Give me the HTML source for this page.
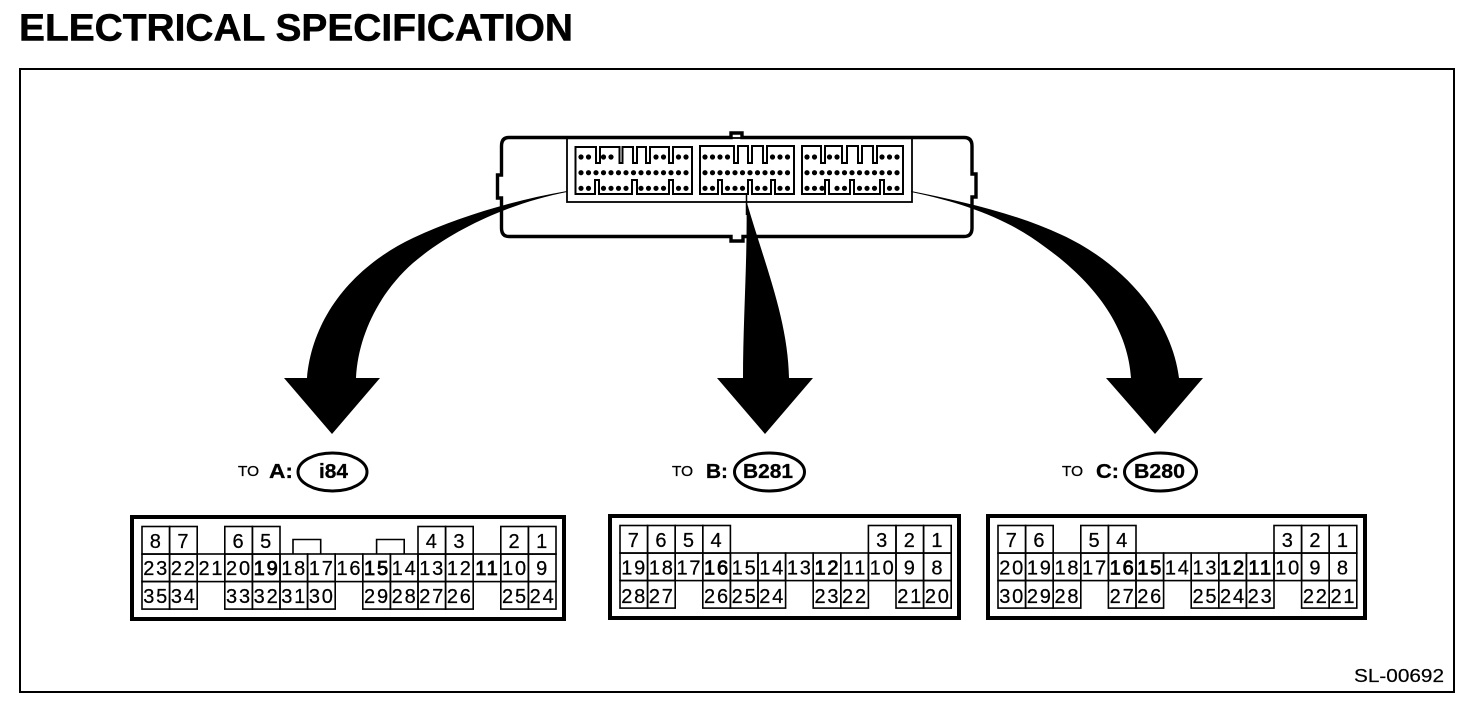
<!DOCTYPE html>
<html><head><meta charset="utf-8"><style>
html,body{margin:0;padding:0;background:#fff}
svg{display:block;font-family:"Liberation Sans",sans-serif}
rect.c{width:27.6px;height:27.6px;fill:none;stroke:#000;stroke-width:1.6}
.n text{font-size:20px;text-anchor:middle;letter-spacing:1.8px;stroke:#000;stroke-width:.25}
.n text.b{stroke-width:.8}
.o{fill:none;stroke:#000;stroke-width:4}
.e{fill:#fff;stroke:#000;stroke-width:3}
.p{fill:none;stroke:#000;stroke-width:5.2;stroke-linecap:round}
.s{fill:none;stroke:#000;stroke-width:2}
.t{font-size:15px;stroke:#000;stroke-width:.3}
.l{font-size:20px;font-weight:bold;stroke:#000;stroke-width:.3}
</style></head><body>
<svg width="1472" height="702" viewBox="0 0 1472 702" xmlns="http://www.w3.org/2000/svg">
<text x="19" y="40.5" font-size="38" font-weight="bold" stroke="#000" stroke-width=".5" textLength="554" lengthAdjust="spacingAndGlyphs">ELECTRICAL SPECIFICATION</text>
<rect x="20" y="69" width="1434" height="623" fill="none" stroke="#000" stroke-width="2"/>
<text x="1354" y="682" font-size="18" stroke="#000" stroke-width=".2" textLength="90" lengthAdjust="spacingAndGlyphs">SL-00692</text>

<!-- module -->
<path d="M731 137.5V133H742V137.5H964Q972 137.5 972 146V174H976V197H972V228Q972 236.5 964 236.5H743V241H731V236.5H509Q501.5 236.5 501.5 228V198H497.5V175H501.5V146Q501.5 137.5 509 137.5Z" fill="none" stroke="#000" stroke-width="3.4"/>
<rect x="567" y="138" width="345" height="64" fill="none" stroke="#000" stroke-width="1.8"/>
<path class="s" d="M575.5 147H596V163H600V147H619.5V163H622.5V147H633V163H637V147H646V163H650V147H669V163H673V147H692V194H673V180H669V194H637V180H632V194H599V180H595V194H575.5Z"/>
<path class="s" d="M700 146H734V163H738V146H748V163H752V146H763V163H767V146H794V194H775V180H771V194H752V180H748V194H722V180H718V194H700Z"/>
<path class="s" d="M802 146H821V163H825V146H842V163H847V146H858V163H862V146H873V163H877V146H903V194H884V180H880V194H854V180H850V194H829V180H825V194H802Z"/>
<path class="p" d="M581 157h.01M588.5 157h.01M603.5 157h.01M611 157h.01M656 157h.01M663.5 157h.01M678.5 157h.01M686 157h.01
M581 172.7h.01M588.5 172.7h.01M596 172.7h.01M603.5 172.7h.01M611 172.7h.01M618.5 172.7h.01M626 172.7h.01M633.5 172.7h.01M641 172.7h.01M648.5 172.7h.01M656 172.7h.01M663.5 172.7h.01M671 172.7h.01M678.5 172.7h.01M686 172.7h.01
M581 188.3h.01M588.5 188.3h.01M603.5 188.3h.01M611 188.3h.01M618.5 188.3h.01M626 188.3h.01M641 188.3h.01M648.5 188.3h.01M656 188.3h.01M663.5 188.3h.01M678.5 188.3h.01M686 188.3h.01
M705 157h.01M712.5 157h.01M720 157h.01M727.5 157h.01M772.5 157h.01M780 157h.01M787.5 157h.01
M705 172.7h.01M712.5 172.7h.01M720 172.7h.01M727.5 172.7h.01M735 172.7h.01M742.5 172.7h.01M750 172.7h.01M757.5 172.7h.01M765 172.7h.01M772.5 172.7h.01M780 172.7h.01M787.5 172.7h.01
M705 188.3h.01M712.5 188.3h.01M727.5 188.3h.01M735 188.3h.01M742.5 188.3h.01M757.5 188.3h.01M765 188.3h.01M780 188.3h.01M787.5 188.3h.01
M807 157h.01M814.5 157h.01M829.5 157h.01M837 157h.01M882 157h.01M889.5 157h.01M897 157h.01
M807 172.7h.01M814.5 172.7h.01M822 172.7h.01M829.5 172.7h.01M837 172.7h.01M844.5 172.7h.01M852 172.7h.01M859.5 172.7h.01M867 172.7h.01M874.5 172.7h.01M882 172.7h.01M889.5 172.7h.01M897 172.7h.01
M807 188.3h.01M814.5 188.3h.01M822 188.3h.01M837 188.3h.01M844.5 188.3h.01M859.5 188.3h.01M867 188.3h.01M874.5 188.3h.01M889.5 188.3h.01M897 188.3h.01"/>

<!-- arrows -->
<path d="M567 191C515 200 460 216 413 238C350 268 312 320 307 378H284L332 434L380 378H356C358 335 380 292 413 263C455 227 515 202 567 192Z"/>
<path d="M746.5 203C747.5 260 743 320 743 378H717L765 434L813 378H789C788 320 765 265 747 203Z"/>
<path d="M911 191C960 201 1015 213 1062 235C1125 264 1172 320 1179 378H1203L1155 434L1106 378H1131C1128 330 1098 285 1045 247C1010 220 965 203 911 192Z"/>
<path d="M746.5 194V215" stroke="#000" stroke-width="1.5"/>

<!-- labels -->
<text class="t" x="238" y="476" textLength="21" lengthAdjust="spacingAndGlyphs">TO</text>
<text class="l" x="269" y="478" textLength="24" lengthAdjust="spacingAndGlyphs">A:</text>
<ellipse class="e" cx="332.5" cy="472" rx="34.5" ry="19"/>
<text class="l" x="319" y="478" textLength="29" lengthAdjust="spacingAndGlyphs">i84</text>
<text class="t" x="672" y="476" textLength="21" lengthAdjust="spacingAndGlyphs">TO</text>
<text class="l" x="706" y="478" textLength="22" lengthAdjust="spacingAndGlyphs">B:</text>
<ellipse class="e" cx="769.5" cy="472" rx="35" ry="19"/>
<text class="l" x="743" y="478" textLength="50" lengthAdjust="spacingAndGlyphs">B281</text>
<text class="t" x="1062" y="476" textLength="21" lengthAdjust="spacingAndGlyphs">TO</text>
<text class="l" x="1096" y="478" textLength="23" lengthAdjust="spacingAndGlyphs">C:</text>
<ellipse class="e" cx="1160.5" cy="472" rx="36" ry="19"/>
<text class="l" x="1134" y="478" textLength="51" lengthAdjust="spacingAndGlyphs">B280</text>

<!-- connector A -->
<rect class="o" x="132" y="517" width="432" height="102"/>
<path d="M293 554V539.5H320.7V554M376.6 554V539.5H404.2V554" fill="none" stroke="#000" stroke-width="1.6"/>
<g>
<rect class="c" x="142" y="526.5"/><rect class="c" x="169.6" y="526.5"/><rect class="c" x="224.8" y="526.5"/><rect class="c" x="252.4" y="526.5"/><rect class="c" x="418" y="526.5"/><rect class="c" x="445.6" y="526.5"/><rect class="c" x="500.8" y="526.5"/><rect class="c" x="528.4" y="526.5"/>
<rect class="c" x="142" y="554"/><rect class="c" x="169.6" y="554"/><rect class="c" x="197.2" y="554"/><rect class="c" x="224.8" y="554"/><rect class="c" x="252.4" y="554"/><rect class="c" x="280" y="554"/><rect class="c" x="307.6" y="554"/><rect class="c" x="335.2" y="554"/><rect class="c" x="362.8" y="554"/><rect class="c" x="390.4" y="554"/><rect class="c" x="418" y="554"/><rect class="c" x="445.6" y="554"/><rect class="c" x="473.2" y="554"/><rect class="c" x="500.8" y="554"/><rect class="c" x="528.4" y="554"/>
<rect class="c" x="142" y="581.5"/><rect class="c" x="169.6" y="581.5"/><rect class="c" x="224.8" y="581.5"/><rect class="c" x="252.4" y="581.5"/><rect class="c" x="280" y="581.5"/><rect class="c" x="307.6" y="581.5"/><rect class="c" x="362.8" y="581.5"/><rect class="c" x="390.4" y="581.5"/><rect class="c" x="418" y="581.5"/><rect class="c" x="445.6" y="581.5"/><rect class="c" x="500.8" y="581.5"/><rect class="c" x="528.4" y="581.5"/>
</g>
<g class="n" transform="translate(.4,0)">
<text x="155.8" y="548">8</text><text x="183.4" y="548">7</text><text x="238.6" y="548">6</text><text x="266.2" y="548">5</text><text x="431.8" y="548">4</text><text x="459.4" y="548">3</text><text x="514.6" y="548">2</text><text x="542.2" y="548">1</text>
<text x="155.8" y="575">23</text><text x="183.4" y="575">22</text><text x="211" y="575">21</text><text x="238.6" y="575">20</text><text class="b" x="266.2" y="575">19</text><text x="293.8" y="575">18</text><text x="321.4" y="575">17</text><text x="349" y="575">16</text><text class="b" x="376.6" y="575">15</text><text x="404.2" y="575">14</text><text x="431.8" y="575">13</text><text x="459.4" y="575">12</text><text class="b" x="487" y="575">11</text><text x="514.6" y="575">10</text><text x="542.2" y="575">9</text>
<text x="155.8" y="603">35</text><text x="183.4" y="603">34</text><text x="238.6" y="603">33</text><text x="266.2" y="603">32</text><text x="293.8" y="603">31</text><text x="321.4" y="603">30</text><text x="376.6" y="603">29</text><text x="404.2" y="603">28</text><text x="431.8" y="603">27</text><text x="459.4" y="603">26</text><text x="514.6" y="603">25</text><text x="542.2" y="603">24</text>
</g>

<!-- connector B -->
<rect class="o" x="610" y="516" width="349" height="102"/>
<g>
<rect class="c" x="620" y="525.5"/><rect class="c" x="647.6" y="525.5"/><rect class="c" x="675.2" y="525.5"/><rect class="c" x="702.8" y="525.5"/><rect class="c" x="868.4" y="525.5"/><rect class="c" x="896" y="525.5"/><rect class="c" x="923.6" y="525.5"/>
<rect class="c" x="620" y="553"/><rect class="c" x="647.6" y="553"/><rect class="c" x="675.2" y="553"/><rect class="c" x="702.8" y="553"/><rect class="c" x="730.4" y="553"/><rect class="c" x="758" y="553"/><rect class="c" x="785.6" y="553"/><rect class="c" x="813.2" y="553"/><rect class="c" x="840.8" y="553"/><rect class="c" x="868.4" y="553"/><rect class="c" x="896" y="553"/><rect class="c" x="923.6" y="553"/>
<rect class="c" x="620" y="580.5"/><rect class="c" x="647.6" y="580.5"/><rect class="c" x="702.8" y="580.5"/><rect class="c" x="730.4" y="580.5"/><rect class="c" x="758" y="580.5"/><rect class="c" x="813.2" y="580.5"/><rect class="c" x="840.8" y="580.5"/><rect class="c" x="896" y="580.5"/><rect class="c" x="923.6" y="580.5"/>
</g>
<g class="n" transform="translate(.4,0)">
<text x="633.8" y="547">7</text><text x="661.4" y="547">6</text><text x="689" y="547">5</text><text x="716.6" y="547">4</text><text x="882.2" y="547">3</text><text x="909.8" y="547">2</text><text x="937.4" y="547">1</text>
<text x="633.8" y="574.5">19</text><text x="661.4" y="574.5">18</text><text x="689" y="574.5">17</text><text class="b" x="716.6" y="574.5">16</text><text x="744.2" y="574.5">15</text><text x="771.8" y="574.5">14</text><text x="799.4" y="574.5">13</text><text class="b" x="827" y="574.5">12</text><text x="854.6" y="574.5">11</text><text x="882.2" y="574.5">10</text><text x="909.8" y="574.5">9</text><text x="937.4" y="574.5">8</text>
<text x="633.8" y="603">28</text><text x="661.4" y="603">27</text><text x="716.6" y="603">26</text><text x="744.2" y="603">25</text><text x="771.8" y="603">24</text><text x="827" y="603">23</text><text x="854.6" y="603">22</text><text x="909.8" y="603">21</text><text x="937.4" y="603">20</text>
</g>

<!-- connector C -->
<rect class="o" x="988" y="516" width="377" height="102"/>
<g>
<rect class="c" x="998" y="525.5"/><rect class="c" x="1025.6" y="525.5"/><rect class="c" x="1080.8" y="525.5"/><rect class="c" x="1108.4" y="525.5"/><rect class="c" x="1274" y="525.5"/><rect class="c" x="1301.6" y="525.5"/><rect class="c" x="1329.2" y="525.5"/>
<rect class="c" x="998" y="553"/><rect class="c" x="1025.6" y="553"/><rect class="c" x="1053.2" y="553"/><rect class="c" x="1080.8" y="553"/><rect class="c" x="1108.4" y="553"/><rect class="c" x="1136" y="553"/><rect class="c" x="1163.6" y="553"/><rect class="c" x="1191.2" y="553"/><rect class="c" x="1218.8" y="553"/><rect class="c" x="1246.4" y="553"/><rect class="c" x="1274" y="553"/><rect class="c" x="1301.6" y="553"/><rect class="c" x="1329.2" y="553"/>
<rect class="c" x="998" y="580.5"/><rect class="c" x="1025.6" y="580.5"/><rect class="c" x="1053.2" y="580.5"/><rect class="c" x="1108.4" y="580.5"/><rect class="c" x="1136" y="580.5"/><rect class="c" x="1191.2" y="580.5"/><rect class="c" x="1218.8" y="580.5"/><rect class="c" x="1246.4" y="580.5"/><rect class="c" x="1301.6" y="580.5"/><rect class="c" x="1329.2" y="580.5"/>
</g>
<g class="n" transform="translate(.4,0)">
<text x="1011.8" y="547">7</text><text x="1039.4" y="547">6</text><text x="1094.6" y="547">5</text><text x="1122.2" y="547">4</text><text x="1287.8" y="547">3</text><text x="1315.4" y="547">2</text><text x="1343" y="547">1</text>
<text x="1011.8" y="574.5">20</text><text x="1039.4" y="574.5">19</text><text x="1067" y="574.5">18</text><text x="1094.6" y="574.5">17</text><text class="b" x="1122.2" y="574.5">16</text><text class="b" x="1149.8" y="574.5">15</text><text x="1177.4" y="574.5">14</text><text x="1205" y="574.5">13</text><text class="b" x="1232.6" y="574.5">12</text><text class="b" x="1260.2" y="574.5">11</text><text x="1287.8" y="574.5">10</text><text x="1315.4" y="574.5">9</text><text x="1343" y="574.5">8</text>
<text x="1011.8" y="603">30</text><text x="1039.4" y="603">29</text><text x="1067" y="603">28</text><text x="1122.2" y="603">27</text><text x="1149.8" y="603">26</text><text x="1205" y="603">25</text><text x="1232.6" y="603">24</text><text x="1260.2" y="603">23</text><text x="1315.4" y="603">22</text><text x="1343" y="603">21</text>
</g>
</svg>
</body></html>
